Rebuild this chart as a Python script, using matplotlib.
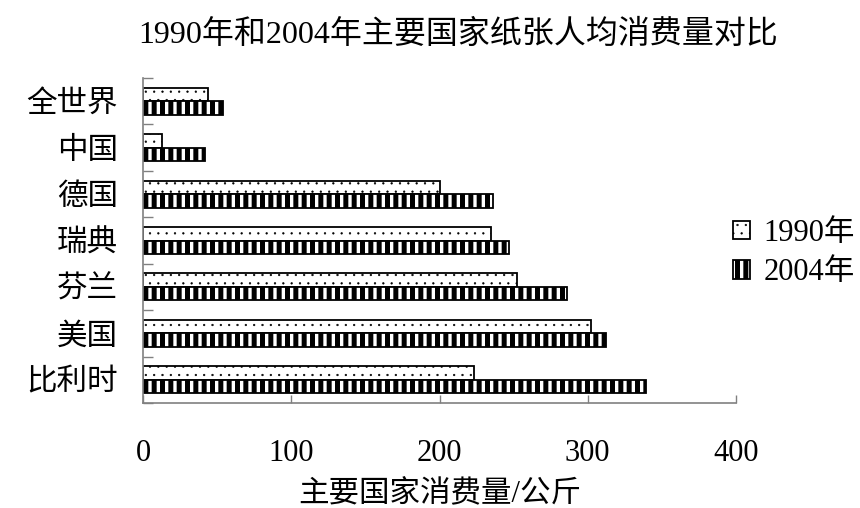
import matplotlib
matplotlib.use("Agg")
import matplotlib.pyplot as plt
import numpy as np

plt.rcParams['font.family'] = ['Liberation Serif', 'Noto Sans CJK SC', 'DejaVu Sans']

# per-capita paper consumption, kg (top to bottom)
countries = ["全世界", "中国", "德国", "瑞典", "芬兰", "美国", "比利时"]
y1990 = [44, 13, 200, 235, 252, 302, 223]
y2004 = [54, 42, 236, 247, 286, 312, 339]
years = ["1990年", "2004年"]

fig = plt.figure(figsize=(8.6, 5.08), dpi=100)
ax = fig.add_axes([143/860, 1-403/508, (736-143)/860, (403-78)/508])

pos = np.arange(len(countries))
h = 0.29
gray = "#808080"
dot_lw, stripe_lw = 0.4, 3.6

with plt.rc_context({"hatch.linewidth": dot_lw}):
    b1 = ax.barh(pos - h/2, y1990, height=h, color="white", edgecolor="black",
                 linewidth=1.3, hatch="..", label=years[0])
with plt.rc_context({"hatch.linewidth": stripe_lw}):
    b2 = ax.barh(pos + h/2, y2004, height=h, color="white", edgecolor="black",
                 linewidth=1.3, hatch="||", label=years[1])
for p in b1:
    p.set_hatch_linewidth(dot_lw)
for p in b2:
    p.set_hatch_linewidth(stripe_lw)

ax.set_ylim(len(countries) - 0.5, -0.5)
ax.set_xlim(0, 400)

ax.set_yticks(pos)
ax.set_yticklabels(countries, fontsize=22)
ax.set_yticks(np.arange(-0.5, len(countries)), minor=True)
ax.tick_params(axis="y", which="major", length=0, pad=18)
ax.tick_params(axis="y", which="minor", direction="in", length=7, color=gray, width=1)

ax.set_xticks([0, 100, 200, 300, 400])
ax.tick_params(axis="x", direction="in", length=6, color=gray, width=1,
               labelsize=22, pad=26)

for s in ["top", "right"]:
    ax.spines[s].set_visible(False)
for s in ["left", "bottom"]:
    ax.spines[s].set_color(gray)
    ax.spines[s].set_linewidth(1.2)

ax.set_xlabel("主要国家消费量/公斤", fontsize=22, labelpad=9)

fig.text(458/860, 1-35/508, "1990年和2004年主要国家纸张人均消费量对比",
         fontsize=23, ha="center", va="center")

leg = fig.legend(handles=[b1, b2], loc="center left", frameon=False, fontsize=22,
                 bbox_to_anchor=(733/860, 1-253/508), bbox_transform=fig.transFigure,
                 borderpad=0, borderaxespad=0, handlelength=0.55, handleheight=0.55,
                 handletextpad=0.45, labelspacing=0.35)
leg.legend_handles[0].set_hatch_linewidth(dot_lw)
leg.legend_handles[1].set_hatch_linewidth(stripe_lw)

fig.savefig("out.png", dpi=100)
